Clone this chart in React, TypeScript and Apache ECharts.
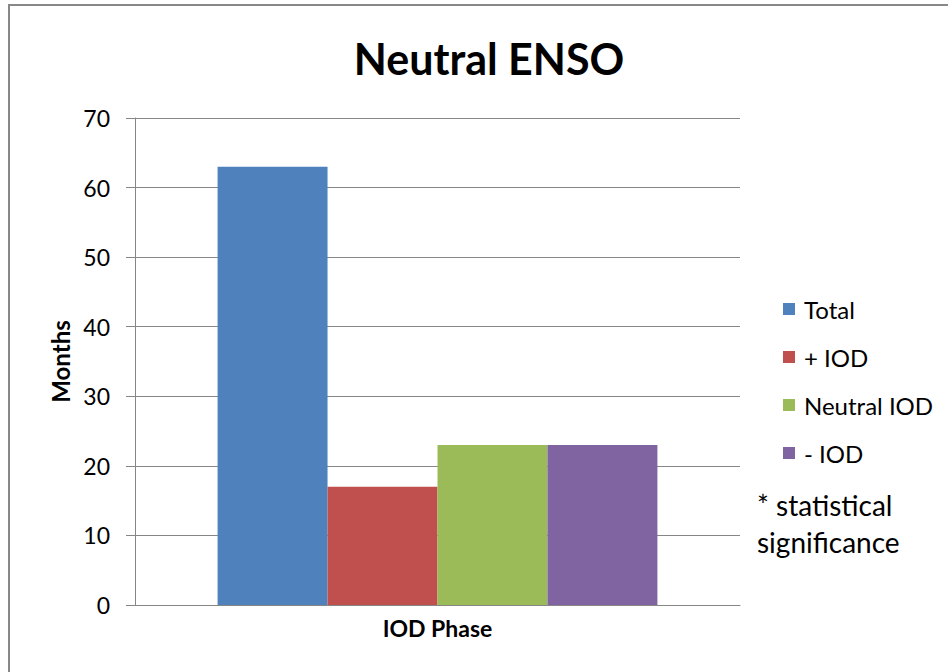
import React, { useEffect, useRef } from "react";
import * as echarts from "echarts";

const categories = ["IOD Phase"];
const seriesNames = ["Total", "+ IOD", "Neutral IOD", "- IOD"];
const seriesValues = [[63], [17], [23], [23]];
const seriesColors = ["#4F81BD", "#C0504D", "#9BBB59", "#8064A2"];
const noteLines = ["* statistical", "significance"];

const FONT = "Lato, 'Open Sans', sans-serif";

export default function App() {
  const ref = useRef<HTMLDivElement>(null);
  useEffect(() => {
    if (!ref.current) return;
    const chart = echarts.init(ref.current, undefined, { renderer: "svg" });
    chart.setOption({
      animation: false,
      backgroundColor: "#ffffff",
      title: {
        text: "Neutral ENSO",
        left: 484,
        textAlign: "center",
        top: 32,
        textStyle: { fontFamily: FONT, fontSize: 43, fontWeight: "bold", color: "#000" },
      },
      legend: {
        orient: "vertical",
        left: 783,
        top: 297,
        padding: 0,
        itemWidth: 12,
        itemHeight: 12,
        itemGap: 24,
        icon: "rect",
        textStyle: { fontFamily: FONT, fontSize: 24, color: "#000", padding: [0, 0, 0, 4] },
        data: seriesNames,
      },
      grid: { left: 135, right: 208, top: 118, bottom: 67, containLabel: false },
      xAxis: {
        type: "category",
        data: categories,
        axisLine: { lineStyle: { color: "#868686" } },
        axisTick: { show: false },
        axisLabel: { fontFamily: FONT, fontSize: 23, fontWeight: "bold", color: "#000", margin: 11 },
      },
      yAxis: {
        type: "value",
        min: 0,
        max: 70,
        interval: 10,
        name: "Months",
        nameLocation: "middle",
        nameRotate: 90,
        nameGap: 62,
        nameTextStyle: { fontFamily: FONT, fontSize: 24, fontWeight: "bold", color: "#000" },
        axisLine: { show: true, lineStyle: { color: "#868686" } },
        axisTick: { show: true, length: 9, lineStyle: { color: "#868686" } },
        axisLabel: { fontFamily: FONT, fontSize: 23, color: "#000", margin: 25 },
        splitLine: { lineStyle: { color: "#868686", width: 1 } },
      },
      series: seriesNames.map((name, i) => ({
        type: "bar",
        name,
        data: seriesValues[i],
        barGap: "0%",
        barCategoryGap: "27.3%",
        itemStyle: { color: seriesColors[i] },
      })),
      graphic: [
        { type: "line", shape: { x1: 8, y1: 5, x2: 948, y2: 5 }, style: { stroke: "#888", lineWidth: 2 } },
        { type: "line", shape: { x1: 9, y1: 5, x2: 9, y2: 672 }, style: { stroke: "#888", lineWidth: 2 } },
        ...noteLines.map((t, i) => ({
          type: "text",
          x: 757,
          y: 505 + i * 37,
          style: {
            text: t,
            fontFamily: FONT,
            fontSize: 28,
            verticalAlign: "middle",
            fill: "#000",
          },
        })),
      ],
    });
    return () => chart.dispose();
  }, []);
  return (
    <div
      ref={ref}
      style={{ position: "fixed", left: 0, top: 0, width: 948, height: 672 }}
    />
  );
}
